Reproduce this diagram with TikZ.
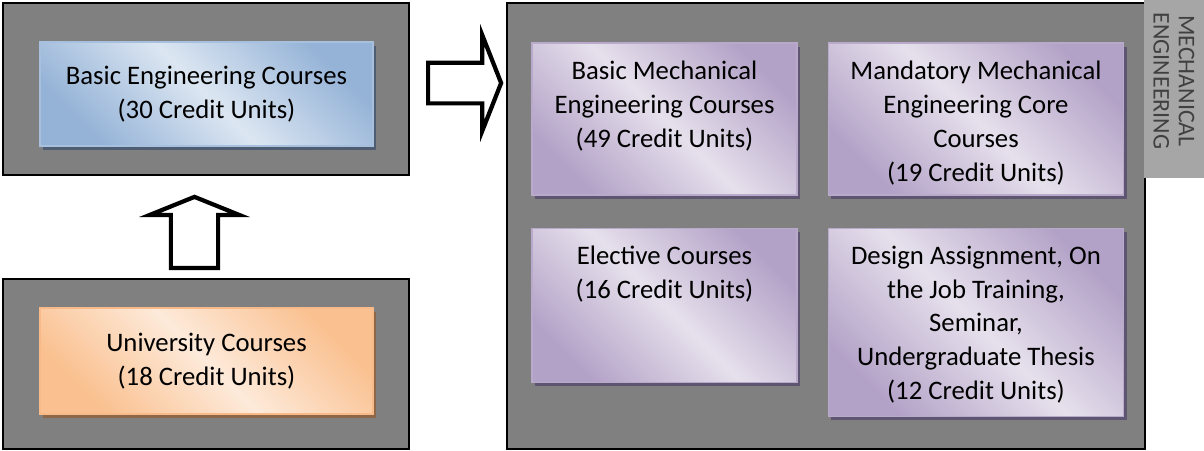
\documentclass[tikz,border=0pt]{standalone}
\usepackage{fontspec}
\setmainfont{Carlito}
\usepackage{xcolor}
\usepackage{tikz}
\usetikzlibrary{positioning, shapes.arrows, shadows}

\definecolor{boxgray}{HTML}{808080}
\definecolor{sidegray}{HTML}{A6A6A6}
\definecolor{sideink}{HTML}{404040}
\definecolor{engdark}{HTML}{95B3D7}
\definecolor{englight}{HTML}{DCE6F2}
\definecolor{engline}{HTML}{A7C0DE}
\definecolor{engshadow}{HTML}{4F5D73}
\definecolor{unidark}{HTML}{FAC08F}
\definecolor{unilight}{HTML}{FDEADA}
\definecolor{uniline}{HTML}{F8BA88}
\definecolor{unishadow}{HTML}{8E6648}
\definecolor{mechdark}{HTML}{B3A2C7}
\definecolor{mechlight}{HTML}{E6E0EC}
\definecolor{mechline}{HTML}{B9AACC}
\definecolor{mechshadow}{HTML}{5E5570}

\newcommand{\coursefont}{\fontsize{19}{24}\selectfont}

\tikzset{
  container/.style={draw=black, line width=1.5pt, fill=boxgray},
  course/.style={draw=#1line, line width=1pt, left color=#1dark, right color=#1dark,
    middle color=#1light, shading angle=-45,
    drop shadow={shadow xshift=0.075cm, shadow yshift=-0.1cm, fill=#1shadow, opacity=1},
    align=center, font=\coursefont},
  coursetext/.style={align=center, inner sep=0pt, font=\coursefont},
  blockarrow/.style={single arrow, draw=black, line width=3pt, fill=white,
    inner xsep=0pt, minimum width=0pt},
}

\begin{document}
\begin{tikzpicture}[x=0.025cm, y=-0.025cm]
      \useasboundingbox (0,0) rectangle (1204,450);
      % left column
      \node[container, minimum width=10.15cm, minimum height=4.3cm] (engframe) at (206,89) {};
      \node[course=eng, minimum width=8.325cm, minimum height=2.6cm] (basiceng) at (206.5,94) {Basic Engineering Courses\\(30 Credit Units)};
      \node[container, minimum width=10.15cm, minimum height=4.25cm] (uniframe) at (206,364) {};
      \node[course=uni, minimum width=8.325cm, minimum height=2.65cm] (university) at (206.5,361) {University Courses\\(18 Credit Units)};
      % right block
      \node[container, minimum width=15.95cm, minimum height=11.15cm] (mechframe) at (826,226) {};
      \node[course=mech, minimum width=6.625cm, minimum height=3.8cm] (basicmech) at (664.5,119) {};
      \node[course=mech, minimum width=7.375cm, minimum height=3.8cm, right=0.75cm of basicmech] (coremech) {};
      \node[course=mech, minimum width=6.625cm, minimum height=3.85cm, below=0.8cm of basicmech] (elective) {};
      \node[course=mech, minimum width=7.375cm, minimum height=4.7cm, below=0.8cm of coremech] (design) {};
      \node[coursetext, below=0.47cm of basicmech.north] (basicmechtext) {Basic Mechanical\\Engineering Courses\\(49 Credit Units)};
      \node[coursetext, below=0.47cm of coremech.north] (coremechtext) {Mandatory Mechanical\\Engineering Core\\Courses\\(19 Credit Units)};
      \node[coursetext, below=0.45cm of elective.north] (electivetext) {Elective Courses\\(16 Credit Units)};
      \node[coursetext, below=0.45cm of design.north] (designtext) {Design Assignment, On\\the Job Training,\\Seminar,\\Undergraduate Thesis\\(12 Credit Units)};
      % side title
      \node[fill=sidegray, minimum width=1.5cm, minimum height=4.45cm, inner sep=0pt] (sidebar) at (1174,89) {};
      \node[rotate=-90, align=center, text=sideink, font=\fontsize{17}{18}\selectfont, inner sep=0pt] (sidetitle) at ([yshift=0.2cm]sidebar.center) {MECHANICAL\\ENGINEERING};
      % block arrows
      \node[blockarrow, rotate=90, minimum height=1.775cm, inner ysep=0.5375cm, single arrow head extend=0.525cm, single arrow tip angle=136, anchor=tail] (uparrow) at (194.5,270) {};
      \node[blockarrow, minimum height=1.825cm, inner ysep=0.456cm, single arrow head extend=0.69cm, single arrow tip angle=137, anchor=tail] (rightarrow) at (426,83) {};
    \end{tikzpicture}
\end{document}
